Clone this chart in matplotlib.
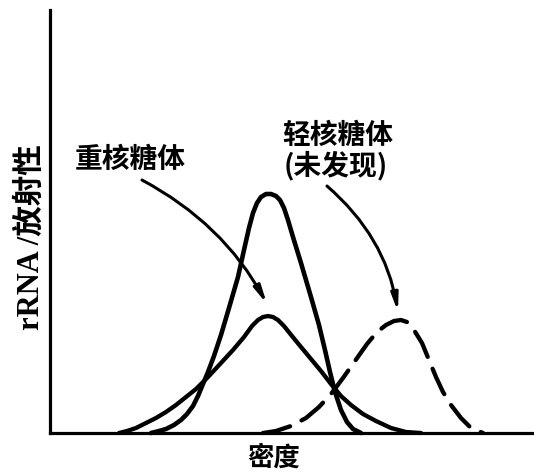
import matplotlib.pyplot as plt

plt.rcParams['font.family'] = ['Noto Sans CJK SC', 'DejaVu Sans']

# 曲线数据 (密度, 放射性)
heavy_tall_x = [101, 109, 116, 124, 131, 137, 143, 148, 153, 158, 164, 171, 179,
                188, 194, 199, 203, 207, 211, 216, 221, 226, 230, 234, 238, 243,
                251, 261, 269, 275, 280, 285, 291, 297, 303, 311]
heavy_tall_y = [0, 2, 4, 8, 13, 19, 27, 37, 49, 61, 77, 98, 125, 156, 183, 205,
                220, 230, 236, 239, 239, 237, 233, 225, 213, 196, 170, 136, 108,
                83, 61, 41, 23, 11, 4, 0]

heavy_low_x = [69, 77, 86, 96, 106, 116, 126, 136, 146, 158, 171, 183, 194, 202,
               208, 213, 218, 223, 228, 234, 242, 251, 261, 271, 281, 291, 301,
               313, 326, 341, 356, 371]
heavy_low_y = [0, 2, 5, 10, 15, 21, 28, 36, 44, 56, 70, 83, 96, 107, 113, 116,
               117, 116, 113, 107, 97, 86, 74, 62, 49, 37, 28, 19, 12, 5, 1, 0]

light_x = [213, 226, 241, 256, 269, 281, 293, 305, 317, 327, 336, 344, 351, 357,
           364, 372, 379, 386, 393, 401, 411, 421, 433]
light_y = [0, 2, 7, 15, 26, 39, 55, 72, 89, 101, 108, 112, 113, 111, 103, 90,
           73, 56, 41, 28, 15, 5, 0]

fig = plt.figure(figsize=(5.34, 4.75), dpi=100)
ax = fig.add_axes([0.0936, 0.0884, 0.9064, 0.8905])
ax.set_xlim(0, 484)
ax.set_ylim(0, 423)

ax.plot(heavy_tall_x, heavy_tall_y, color='black', lw=3.3, solid_capstyle='round',
        solid_joinstyle='round', clip_on=False)
ax.plot(heavy_low_x, heavy_low_y, color='black', lw=3.1, solid_capstyle='round',
        solid_joinstyle='round', clip_on=False)
ax.plot(light_x, light_y, color='black', lw=3.1, linestyle=(0, (6.5, 3)),
        dash_capstyle='round', clip_on=False)

for s in ['top', 'right']:
    ax.spines[s].set_visible(False)
for s in ['left', 'bottom']:
    ax.spines[s].set_linewidth(2.3)
ax.set_xticks([])
ax.set_yticks([])

# 标注
ax.annotate('', xy=(217, 129), xytext=(92, 253),
            arrowprops=dict(arrowstyle='-|>,head_length=1.0,head_width=0.2',
                            color='black', lw=2.2, shrinkA=0, shrinkB=0,
                            connectionstyle='arc3,rad=-0.15'))
ax.annotate('', xy=(348, 121), xytext=(277, 247),
            arrowprops=dict(arrowstyle='-|>,head_length=1.0,head_width=0.2',
                            color='black', lw=2.2, shrinkA=0, shrinkB=0,
                            connectionstyle='arc3,rad=-0.18'))

ax.text(80, 273, '重核糖体', fontsize=20, fontweight='bold', ha='center', va='center')
ax.text(288, 297, '轻核糖体', fontsize=20, fontweight='bold', ha='center', va='center')
ax.text(286, 268, '(未发现)', fontsize=20, fontweight='bold', ha='center', va='center')

fig.text(274 / 534, 1 - 458 / 475, '密度', fontsize=19, fontweight='bold',
         ha='center', va='center')
fig.text(31 / 534, 1 - 237 / 475, 'rRNA /放射性', fontsize=22, fontweight='bold',
         rotation=90, ha='center', va='center',
         family=['Liberation Serif', 'Noto Sans CJK SC'])

fig.savefig('out.png', dpi=100)
